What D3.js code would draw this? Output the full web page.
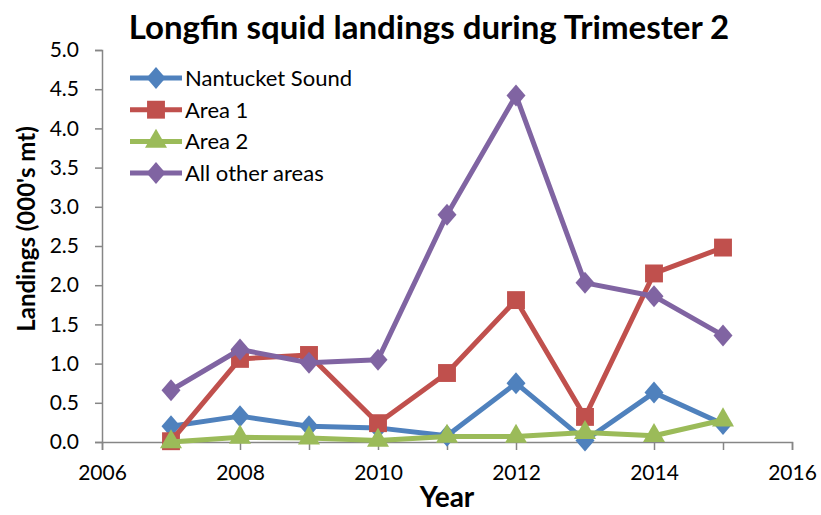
<!DOCTYPE html>
<html>
<head>
<meta charset="utf-8">
<script src="https://cdn.jsdelivr.net/npm/d3@7"></script>
<style>
  html, body { margin: 0; padding: 0; background: #fff; }
  svg { display: block; }
  text { font-family: Lato, "Open Sans", "Liberation Sans", sans-serif; fill: #000; }
</style>
</head>
<body>
<svg id="chart" width="821" height="515"></svg>
<script>
// Trimester 2 longfin squid landings, thousands of metric tons
const years = [2007, 2008, 2009, 2010, 2011, 2012, 2013, 2014, 2015];
const nantucketSound = [0.20, 0.33, 0.20, 0.18, 0.08, 0.75, 0.02, 0.63, 0.23];
const area1 = [0.01, 1.06, 1.11, 0.24, 0.88, 1.81, 0.32, 2.15, 2.48];
const area2 = [0.00, 0.06, 0.05, 0.02, 0.07, 0.07, 0.12, 0.08, 0.28];
const allOtherAreas = [0.66, 1.18, 1.01, 1.05, 2.90, 4.42, 2.03, 1.86, 1.36];

const seriesNames = ["Nantucket Sound", "Area 1", "Area 2", "All other areas"];
const xTicks = [2006, 2008, 2010, 2012, 2014, 2016];
const yTicks = [0, 0.5, 1, 1.5, 2, 2.5, 3, 3.5, 4, 4.5, 5];

const series = [
  { name: seriesNames[0], values: nantucketSound, color: "#4F81BD", marker: "diamond" },
  { name: seriesNames[1], values: area1, color: "#C0504D", marker: "square" },
  { name: seriesNames[2], values: area2, color: "#9BBB59", marker: "triangle" },
  { name: seriesNames[3], values: allOtherAreas, color: "#8064A2", marker: "diamond" }
];

const svg = d3.select("#chart");
const plot = { left: 102, right: 792, top: 50, bottom: 442 };

const x = d3.scaleLinear().domain([2006, 2016]).range([plot.left, plot.right]);
const y = d3.scaleLinear().domain([0, 5]).range([plot.bottom, plot.top]);

const axisColor = "#868686";
const tickFont = "21px";

// Title
svg.append("text")
  .attr("x", 429).attr("y", 39)
  .attr("text-anchor", "middle")
  .style("font-size", "33px").style("font-weight", "bold")
  .text("Longfin squid landings during Trimester 2");

// Y axis
const yAxis = svg.append("g")
  .attr("transform", `translate(${plot.left},0)`)
  .call(d3.axisLeft(y).tickValues(yTicks).tickFormat(d3.format(".1f")).tickSize(7).tickPadding(16));
yAxis.select(".domain").attr("stroke", axisColor).attr("stroke-width", 1.5);
yAxis.selectAll(".tick line").attr("stroke", axisColor).attr("stroke-width", 1.5);
yAxis.selectAll(".tick text").style("font-size", tickFont).style("font-family", "Lato, 'Open Sans', sans-serif").attr("fill", "#000");

// X axis: labels every two years, tick marks every year
const xAxis = svg.append("g")
  .attr("transform", `translate(0,${plot.bottom})`)
  .call(d3.axisBottom(x).tickValues(d3.range(2006, 2017)).tickFormat(d => xTicks.includes(d) ? d : "").tickSize(8).tickPadding(15));
xAxis.select(".domain").attr("stroke", axisColor).attr("stroke-width", 1.5);
xAxis.selectAll(".tick line").attr("stroke", axisColor).attr("stroke-width", 1.5);
xAxis.selectAll(".tick text").style("font-size", tickFont).style("font-family", "Lato, 'Open Sans', sans-serif").attr("fill", "#000");

// Axis titles
svg.append("text")
  .attr("x", 447).attr("y", 507)
  .attr("text-anchor", "middle")
  .style("font-size", "28px").style("font-weight", "bold")
  .text("Year");

svg.append("text")
  .attr("transform", "translate(35,229) rotate(-90)")
  .attr("text-anchor", "middle")
  .style("font-size", "24px").style("font-weight", "bold")
  .text("Landings (000's mt)");

// Marker shapes
function markerPath(type) {
  if (type === "square") return d3.symbol(d3.symbolSquare, 320)();
  if (type === "triangle") return d3.symbol(d3.symbolTriangle, 210)();
  const h = 11, w = 9.5;
  return `M0,${-h}L${w},0L0,${h}L${-w},0Z`;
}

const line = d3.line().x(d => x(d.year)).y(d => y(d.value));

series.forEach(s => {
  const pts = years.map((yr, i) => ({ year: yr, value: s.values[i] }));
  const g = svg.append("g");
  g.append("path")
    .datum(pts)
    .attr("d", line)
    .attr("fill", "none")
    .attr("stroke", s.color)
    .attr("stroke-width", 5)
    .attr("stroke-linejoin", "round");
  g.selectAll("path.marker")
    .data(pts)
    .join("path")
    .attr("class", "marker")
    .attr("transform", d => `translate(${x(d.year)},${y(d.value)})`)
    .attr("d", markerPath(s.marker))
    .attr("fill", s.color);
});

// Legend
const legend = svg.append("g").attr("transform", "translate(130,78)");
series.forEach((s, i) => {
  const row = legend.append("g").attr("transform", `translate(0,${i * 31.7})`);
  row.append("line")
    .attr("x1", 0).attr("x2", 52)
    .attr("y1", 0).attr("y2", 0)
    .attr("stroke", s.color).attr("stroke-width", 5);
  row.append("path")
    .attr("transform", "translate(26,0)")
    .attr("d", markerPath(s.marker))
    .attr("fill", s.color);
  row.append("text")
    .attr("x", 55).attr("y", 8)
    .style("font-size", "22px")
    .text(s.name);
});
</script>
</body>
</html>
